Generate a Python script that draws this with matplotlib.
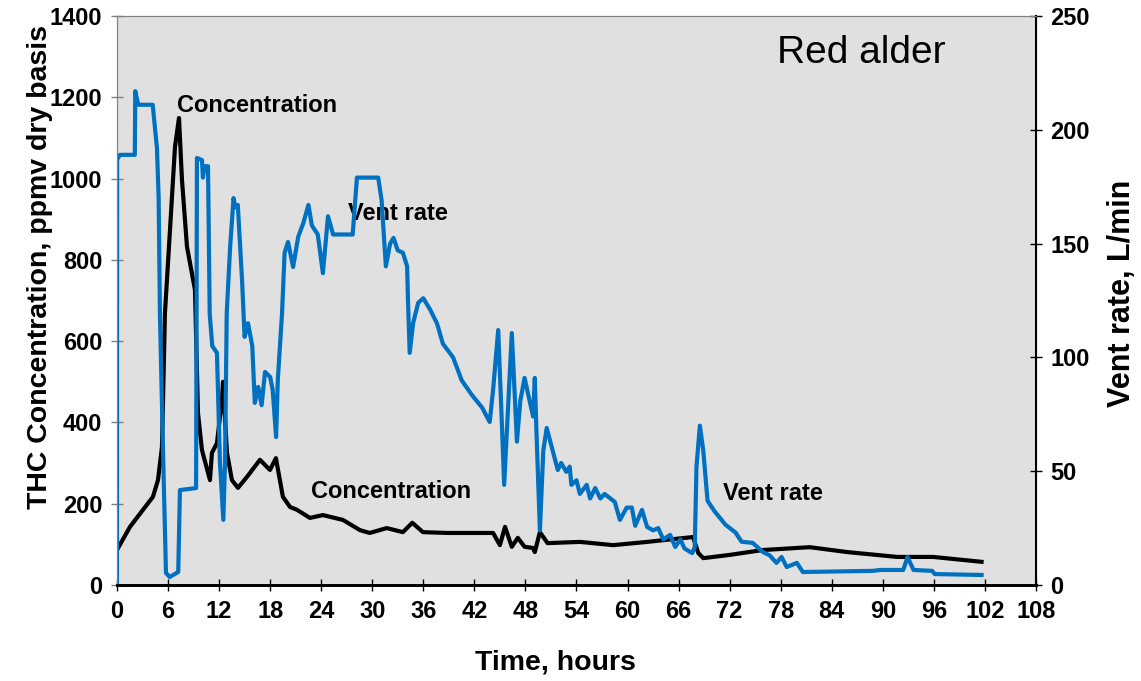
import matplotlib.pyplot as plt

plt.rcParams['font.family'] = ['Liberation Sans', 'DejaVu Sans']

# THC concentration (ppmv dry basis) vs time (hours)
conc_time = [0, 1.53, 3.06, 4.23, 4.82, 5.29, 5.64, 6.23, 6.82, 7.29, 7.64, 8.23, 9.17,
             9.52, 9.99, 10.93, 11.16, 11.75, 12.34, 12.46, 12.93, 13.51, 14.22, 15.28,
             16.8, 17.98, 18.68, 19.5, 20.33, 21.15, 22.68, 24.2, 26.56, 28.55, 29.7,
             31.7, 33.6, 34.7, 35.96, 38.8, 44.2, 45.0, 45.6, 46.4, 47.1, 47.9, 48.9,
             49.1, 49.7, 50.6, 54.4, 58.3, 62.3, 67.7, 68.3, 68.9, 72.0, 75.9, 81.4,
             85.8, 91.7, 95.9, 101.6]
conc = [86, 143, 185, 217, 258, 340, 669, 873, 1078, 1149, 997, 832, 726,
        423, 332, 258, 325, 349, 455, 500, 325, 258, 239, 266,
        308, 283, 312, 217, 192, 185, 165, 172, 160, 135, 128,
        140, 130, 153, 130, 128, 128, 98, 143, 94, 116, 94, 91,
        81, 130, 103, 106, 98, 106, 118, 79, 66, 74, 86, 93,
        81, 69, 69, 57]

# vent rate (L/min) vs time (hours)
vent_time = [0, 0.02, 0.35, 2.1, 2.15, 2.5, 4.2, 4.7, 4.9, 5.05, 5.4, 5.76, 6.2, 7.2,
             7.4, 9.3, 9.4, 9.99, 10.1, 10.3, 10.7, 10.9, 11.2, 11.75, 12.1, 12.5,
             12.7, 12.9, 13.3, 13.7, 13.9, 14.2, 14.7, 15.0, 15.4, 15.9, 16.2, 16.6,
             17.0, 17.4, 18.0, 18.3, 18.7, 18.9, 19.4, 19.7, 20.1, 20.7, 21.3, 21.9,
             22.5, 22.9, 23.6, 24.2, 24.8, 25.4, 27.7, 28.2, 30.7, 31.1, 31.6, 32.1,
             32.5, 33.0, 33.6, 34.1, 34.2, 34.4, 34.8, 35.4, 36.0, 36.8, 37.6, 38.3,
             39.5, 40.5, 41.7, 42.9, 43.8, 44.2, 44.8, 45.2, 45.5, 45.9, 46.4, 47.0,
             47.4, 47.9, 48.9, 49.1, 49.3, 49.7, 50.1, 50.5, 51.2, 51.8, 52.2, 52.8,
             53.2, 53.4, 54.0, 54.4, 55.2, 55.6, 56.2, 56.8, 57.3, 58.5, 59.1, 59.9,
             60.5, 60.9, 61.7, 62.3, 63.0, 63.6, 64.2, 65.0, 65.6, 66.2, 66.7, 67.6,
             67.9, 68.1, 68.5, 68.9, 69.4, 70.2, 71.5, 72.7, 73.4, 74.7, 75.9, 76.7,
             77.5, 78.1, 78.7, 79.9, 80.6, 88.8, 89.7, 92.4, 92.9, 93.6, 95.8, 96.1,
             101.6]
vent = [0, 187, 189, 189, 217, 211, 211, 192, 170, 119, 61, 5.3, 3.5, 5.7,
        41.7, 42.6, 187.6, 186.7, 179, 184, 184, 119, 105, 102, 54, 28.6,
        54, 119.5, 148.5, 170, 166, 167, 134, 109, 115, 105, 80, 87,
        79, 93.6, 91.4, 85.7, 65, 90, 119.5, 146, 150.7, 139.7, 153, 159,
        167, 158, 154, 137, 162, 154, 154, 179, 179, 169, 140, 150,
        152.5, 147, 146, 140, 125, 102, 115, 124, 126, 121, 115, 106,
        100, 90, 83.5, 78, 71.6, 85.7, 112, 74, 44, 74, 110.7, 63,
        81, 91, 74, 91, 67, 24, 59, 69, 59, 50.5, 53.6, 49.7,
        52, 44, 46, 40, 44, 38, 42.6, 38, 40, 36.5, 28.6, 34,
        34, 26, 33, 25.5, 24, 25, 20, 22, 16.7, 20, 16, 14,
        16.7, 52, 70, 59, 37, 32.5, 26.5, 23, 19, 18.5, 14.5, 13,
        9.7, 12.3, 7.9, 9.7, 5.7, 6.2, 6.6, 6.6, 12.3, 6.6, 6.2, 4.8,
        4.4]

x_ticks = list(range(0, 109, 6))
left_ticks = list(range(0, 1401, 200))
right_ticks = list(range(0, 251, 50))

fig = plt.figure(figsize=(11.41, 6.81), dpi=100)
ax = fig.add_axes([0.1025, 0.141, 0.8055, 0.8355])
ax.set_facecolor('#e0e0e0')

ax.plot(conc_time, conc, color='black', lw=3, solid_joinstyle='round')
ax.set_xlim(0, 108)
ax.set_ylim(0, 1400)
ax.set_xticks(x_ticks)
ax.set_yticks(left_ticks)

ax2 = ax.twinx()
ax2.plot(vent_time, vent, color='#0070c0', lw=3, solid_joinstyle='round')
ax2.set_ylim(0, 250)
ax2.set_yticks(right_ticks)

bold = dict(fontweight='bold')
for a in (ax, ax2):
    a.tick_params(direction='inout', length=9, width=1, labelsize=17, pad=6)
    for lab in a.get_xticklabels() + a.get_yticklabels():
        lab.set_fontweight('bold')
ax.tick_params(axis='y', colors='#808080', labelcolor='black')

ax.spines['left'].set_color('#808080')
ax.spines['top'].set_color('#808080')
ax.spines['bottom'].set_linewidth(2)
ax2.spines['right'].set_linewidth(1.5)
ax2.spines['top'].set_color('#808080')
ax2.spines['bottom'].set_linewidth(2)
ax2.spines['left'].set_color('#808080')

ax.set_xlabel('Time, hours', fontsize=20.5, va='center', **bold)
ax.xaxis.set_label_coords(0.4766, -0.137)
ax.set_ylabel('THC Concentration, ppmv dry basis', fontsize=20.5, va='center', **bold)
ax.yaxis.set_label_coords(-0.084, 0.559)
ax2.set_ylabel('Vent rate, L/min', fontsize=22, va='center', **bold)
ax2.yaxis.set_label_coords(1.094, 0.513)

ax.text(7.05, 1181, 'Concentration', fontsize=17, va='center', **bold)
ax.text(27.1, 915, 'Vent rate', fontsize=17, va='center', **bold)
ax.text(22.8, 229, 'Concentration', fontsize=17, va='center', **bold)
ax.text(71.2, 224, 'Vent rate', fontsize=17, va='center', **bold)
ax.text(77.6, 1309, 'Red alder', fontsize=28, va='center')

fig.savefig('out.png', dpi=100)
